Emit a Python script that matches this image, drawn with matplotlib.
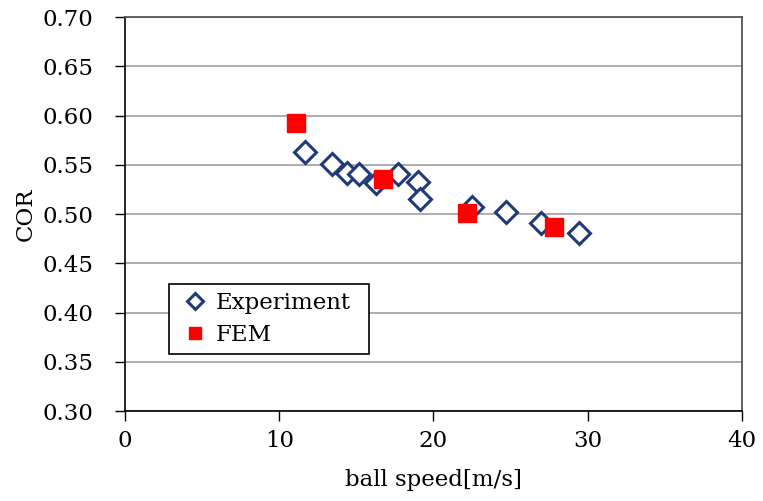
import matplotlib.pyplot as plt

plt.rcParams['font.family'] = ['DejaVu Serif']

exp_speed = [11.7, 13.4, 14.4, 15.2, 16.3, 17.7, 19.0, 19.1, 22.5, 24.7, 27.0, 29.4]
exp_cor = [0.563, 0.551, 0.542, 0.541, 0.531, 0.541, 0.533, 0.515, 0.507, 0.502, 0.491, 0.481]

fem_speed = [11.1, 16.7, 22.2, 27.8]
fem_cor = [0.592, 0.536, 0.501, 0.487]

fig = plt.figure(figsize=(7.63, 5.01), dpi=100)
ax = fig.add_axes([0.1638, 0.1796, 0.8087, 0.7864])

ax.plot(exp_speed, exp_cor, linestyle='none', marker='D', markersize=11.5,
        markerfacecolor='white', markeredgecolor='#1f3a78', markeredgewidth=2.2,
        label='Experiment', zorder=3)
ax.plot(fem_speed, fem_cor, linestyle='none', marker='s', markersize=13,
        color='#ff0000', label='FEM', zorder=4)

ax.set_xlim(0, 40)
ax.set_ylim(0.30, 0.70)
ax.set_xticks([0, 10, 20, 30, 40])
ax.set_yticks([0.30, 0.35, 0.40, 0.45, 0.50, 0.55, 0.60, 0.65, 0.70])
ax.set_yticklabels(['%.2f' % v for v in ax.get_yticks()])
ax.yaxis.grid(True, color='#a0a0a0', linewidth=1.2)
ax.set_axisbelow(True)
ax.tick_params(direction='out', length=7, width=1, labelsize=16.5)
ax.tick_params(axis='x', pad=7)
ax.tick_params(axis='y', pad=16)
for s in ['left', 'bottom']:
    ax.spines[s].set_color('black')
    ax.spines[s].set_linewidth(1.2)
for s in ['top', 'right']:
    ax.spines[s].set_color('#555555')
    ax.spines[s].set_linewidth(1.3)

ax.set_xlabel('ball speed[m/s]', fontsize=16.5, labelpad=12)
ax.set_ylabel('COR', fontsize=16.5, labelpad=4)

leg = ax.legend(loc='lower left', bbox_to_anchor=(0.071, 0.145, 0.324, 0.177),
                mode='expand', borderaxespad=0, fontsize=16.5, frameon=True,
                fancybox=False, edgecolor='black', handlelength=1.55,
                handletextpad=0.15, borderpad=0.35, labelspacing=0.45,
                markerscale=0.7)
leg.get_frame().set_linewidth(1.2)
leg.get_frame().set_alpha(1)

fig.savefig('out.png', dpi=100)
